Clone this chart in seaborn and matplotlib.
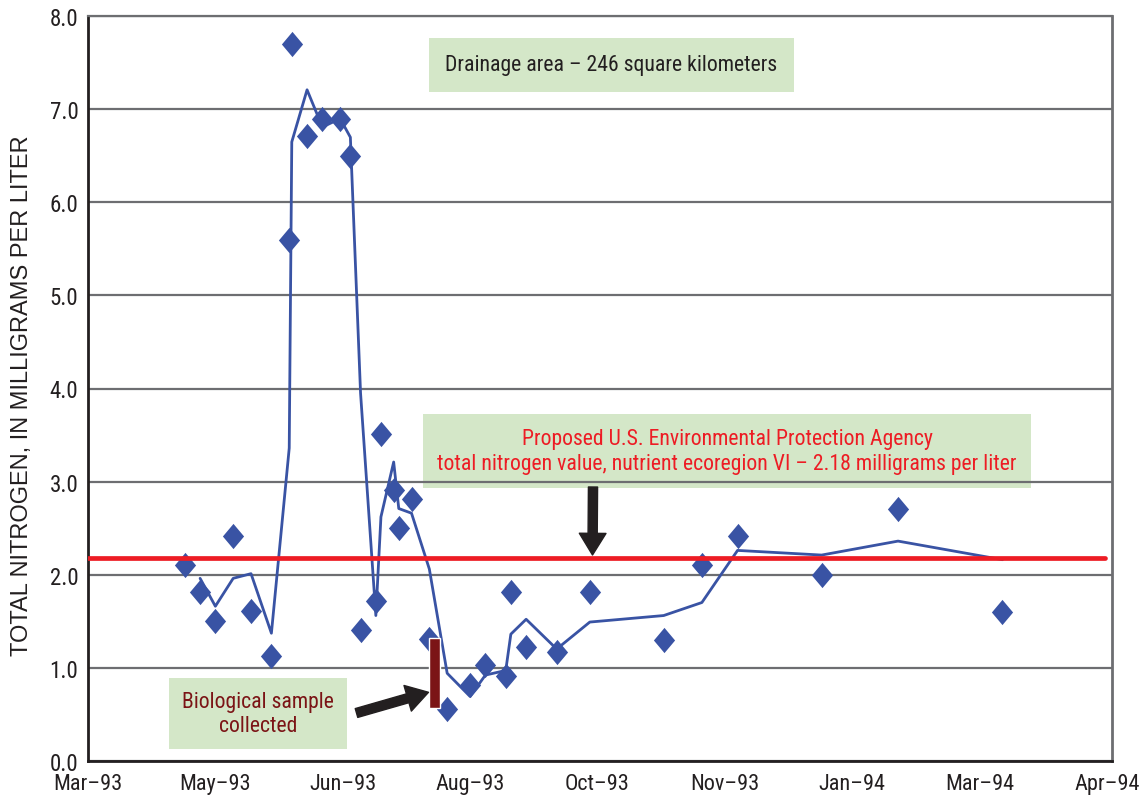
import matplotlib
matplotlib.use("Agg")
import matplotlib.pyplot as plt
from matplotlib import font_manager
import pandas as pd
import seaborn as sns

# ---- data -------------------------------------------------------------
sample_dates = [
    "1993-04-25", "1993-05-01", "1993-05-07", "1993-05-14", "1993-05-21", "1993-05-29",
    "1993-06-05", "1993-06-06", "1993-06-12", "1993-06-18", "1993-06-25", "1993-06-29",
    "1993-07-03", "1993-07-09", "1993-07-11", "1993-07-16", "1993-07-18", "1993-07-23",
    "1993-07-30", "1993-08-06", "1993-08-15", "1993-08-21", "1993-08-29", "1993-08-31",
    "1993-09-06", "1993-09-18", "1993-10-01", "1993-10-30", "1993-11-14", "1993-11-28",
    "1993-12-31", "1994-01-30", "1994-03-12",
]
total_nitrogen = [
    2.10, 1.81, 1.50, 2.41, 1.61, 1.12,
    5.60, 7.70, 6.71, 6.90, 6.90, 6.50,
    1.40, 1.72, 3.51, 2.91, 2.50, 2.81,
    1.31, 0.56, 0.81, 1.03, 0.91, 1.81,
    1.22, 1.17, 1.81, 1.30, 2.10, 2.41,
    2.00, 2.71, 1.60,
]
# two-point moving average trend line (starts at the second sample)
moving_average = [
    1.96, 1.66, 1.96, 2.01, 1.37,
    3.36, 6.65, 7.21, 6.81, 6.90, 6.70,
    3.95, 1.56, 2.62, 3.21, 2.71, 2.66,
    2.06, 0.94, 0.69, 0.92, 0.97, 1.36,
    1.52, 1.20, 1.49, 1.56, 1.70, 2.26,
    2.21, 2.36, 2.16,
]
epa_criterion = 2.18
bio_sample_date = "1993-08-01"
bio_sample_range = (0.57, 1.32)

tick_start = "1993-03-18"
x_end = "1994-04-24"
tick_labels = ["Mar–93", "May–93", "Jun–93", "Aug–93", "Oct–93",
               "Nov–93", "Jan–94", "Mar–94", "Apr–94"]
y_ticks = [0, 1, 2, 3, 4, 5, 6, 7, 8]

# ---- style ------------------------------------------------------------
sns.set_theme(style="white")
names = {f.name for f in font_manager.fontManager.ttflist}
narrow = None
for cand in ["Liberation Sans Narrow", "Roboto Condensed", "Open Sans Condensed"]:
    if cand in names:
        narrow = cand
        break
if narrow is None:
    narrow = "DejaVu Sans"
    plt.rcParams["font.stretch"] = "condensed"
plt.rcParams["font.family"] = [narrow, "DejaVu Sans"]

BLUE = "#3953a4"
RED = "#ed1c24"
DARKRED = "#7b1416"
GREEN = "#d4e7c8"
INK = "#231f20"
GRID = "#6d6e71"
NOTE_SIZE = 15.7

samples = pd.DataFrame({"date": pd.to_datetime(sample_dates), "tn": total_nitrogen})
trend = pd.DataFrame({"date": pd.to_datetime(sample_dates[1:]), "tn": moving_average})

fig = plt.figure(figsize=(11.44, 8.03), dpi=100)
ax = fig.add_axes([88 / 1144, (803 - 761.7) / 803, 1024 / 1144, 744.4 / 803])

sns.lineplot(data=trend, x="date", y="tn", ax=ax, color=BLUE, linewidth=2.0,
             zorder=3, legend=False)
diamond = [(0, 1), (0.84, 0), (0, -1), (-0.84, 0)]
sns.scatterplot(data=samples, x="date", y="tn", ax=ax, marker=diamond, s=330,
                color=BLUE, edgecolor=BLUE, linewidth=0, zorder=4, legend=False)

ax.axhline(epa_criterion, xmin=0, xmax=0.993, color=RED, linewidth=3.4, zorder=5)

ax.bar(pd.Timestamp(bio_sample_date), bio_sample_range[1] - bio_sample_range[0],
       bottom=bio_sample_range[0], width=4.5, color=DARKRED, zorder=6)

# axes
tick_dates = pd.date_range(tick_start, periods=len(tick_labels), freq="50D")
ax.set_xlim(pd.Timestamp(tick_start), pd.Timestamp(x_end))
ax.set_ylim(0, 8)
ax.set_xticks(tick_dates)
ax.set_xticklabels(tick_labels)
ax.set_yticks(y_ticks)
ax.set_yticklabels([f"{v:.1f}" for v in y_ticks])
ax.tick_params(axis="x", direction="in", length=6, width=1.5, color="#555555",
               labelsize=16, labelcolor=INK, pad=9)
ax.tick_params(axis="y", length=0, labelsize=16.5, labelcolor=INK, pad=7)
ax.set_xlabel("")
ax.set_ylabel("")
ax.set_axisbelow(True)
ax.yaxis.grid(True, color=GRID, linewidth=1.6)
ax.xaxis.grid(False)
for side, col, lw in [("left", INK, 2.0), ("bottom", INK, 2.0),
                      ("right", GRID, 2.0), ("top", GRID, 1.6)]:
    ax.spines[side].set_visible(True)
    ax.spines[side].set_color(col)
    ax.spines[side].set_linewidth(lw)

fig.text(22 / 1144, (803 - 396) / 803, "TOTAL NITROGEN, IN MILLIGRAMS PER LITER",
         rotation=90, ha="center", va="center", fontsize=17, color=INK,
         family=["Liberation Sans", "DejaVu Sans"], fontstretch="normal")

# annotations
ax.text(0.511, 0.935, "Drainage area – 246 square kilometers", transform=ax.transAxes,
        ha="center", va="center", fontsize=NOTE_SIZE, color=INK, zorder=0.4,
        bbox=dict(boxstyle="square,pad=0.75", facecolor=GREEN, edgecolor="none"))
ax.text(0.624, 0.416,
        "Proposed U.S. Environmental Protection Agency\n"
        "total nitrogen value, nutrient ecoregion VI – 2.18 milligrams per liter",
        transform=ax.transAxes, ha="center", va="center", fontsize=NOTE_SIZE, color=RED,
        linespacing=1.25, zorder=0.4,
        bbox=dict(boxstyle="square,pad=0.65", facecolor=GREEN, edgecolor="none"))
ax.text(0.166, 0.0634, "Biological sample\ncollected", transform=ax.transAxes,
        ha="center", va="center", fontsize=NOTE_SIZE, color=DARKRED, linespacing=1.2,
        zorder=0.4,
        bbox=dict(boxstyle="square,pad=0.6", facecolor=GREEN, edgecolor="none"))

arrow = dict(arrowstyle="simple,head_length=1.3,head_width=1.6,tail_width=0.55",
             mutation_scale=12, color=INK, shrinkA=0, shrinkB=0)
ax.annotate("", xy=(592.5, 803 - 556), xytext=(593, 803 - 488),
            xycoords="figure pixels", textcoords="figure pixels",
            arrowprops=arrow, zorder=7)
ax.annotate("", xy=(428.5, 803 - 693.3), xytext=(356.5, 803 - 714),
            xycoords="figure pixels", textcoords="figure pixels",
            arrowprops=arrow, zorder=7)

fig.savefig("out.png", dpi=100)
